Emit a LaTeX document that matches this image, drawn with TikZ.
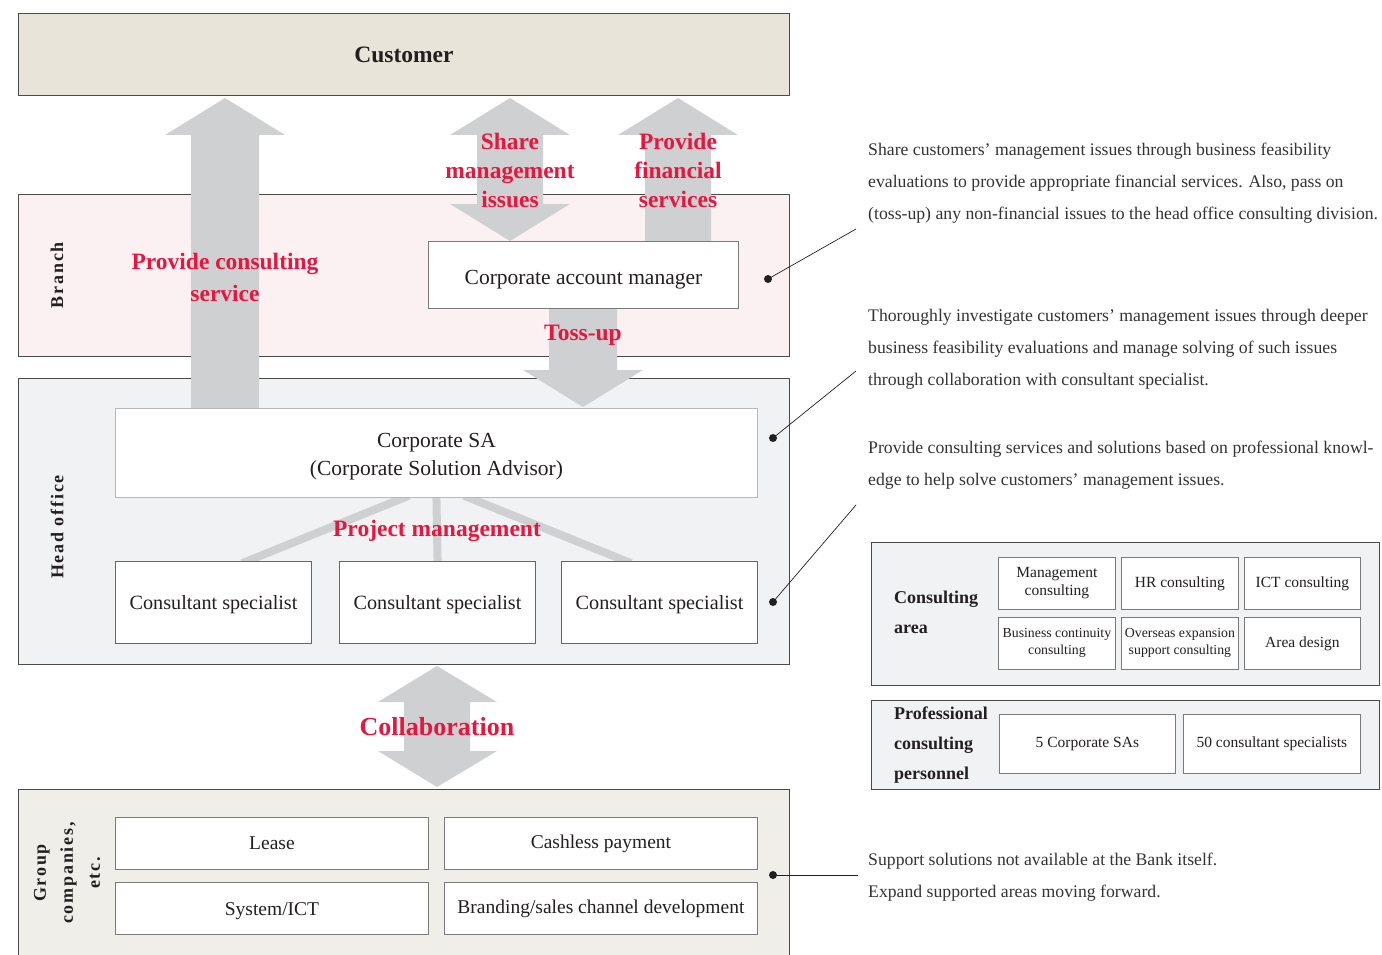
\documentclass[tikz,border=0pt]{standalone}
\usepackage{fontspec}
\setmainfont{Liberation Serif}
\definecolor{custfill}{HTML}{E8E4D9}
\definecolor{branchfill}{HTML}{FBF1F3}
\definecolor{hofill}{HTML}{F1F2F4}
\definecolor{grpfill}{HTML}{F0EEE8}
\definecolor{arrowgray}{HTML}{CFD0D2}
\definecolor{labelred}{HTML}{E5173F}
\definecolor{frameline}{HTML}{4A4A4A}
\definecolor{boxline}{HTML}{7A7A7A}
\definecolor{specline}{HTML}{3A6DAD}
\definecolor{saline}{HTML}{B8B8B8}
\definecolor{inktext}{HTML}{231F20}
\definecolor{notetext}{HTML}{333333}
\pgfdeclarelayer{bg}
\pgfdeclarelayer{mid}
\pgfsetlayers{bg,mid,main}
\begin{document}
\begin{tikzpicture}[x=1pt,y=-1pt,
  frame/.style={draw=frameline, line width=1pt, inner sep=0pt, anchor=north west},
  wbox/.style={draw=boxline, fill=white, line width=0.9pt, inner sep=0pt, anchor=north west,
    align=center, text=inktext, font=\fontsize{21.5}{28}\selectfont},
  specbox/.style={wbox, draw=specline, line width=1.1pt, font=\fontsize{20.2}{24}\selectfont},
  gbox/.style={wbox, font=\fontsize{19.5}{24}\selectfont},
  cbox/.style={wbox, line width=0.8pt, font=\fontsize{15.5}{18}\selectfont},
  cboxs/.style={cbox, font=\fontsize{13.8}{17}\selectfont},
  redlbl/.style={text=labelred, align=center, inner sep=0pt, font=\fontsize{23.5}{29}\selectfont\bfseries},
  sidelbl/.style={rotate=90, align=center, inner sep=0pt, text=inktext,
    font=\fontsize{18}{27}\selectfont\bfseries\addfontfeature{LetterSpace=10}},
  note/.style={anchor=north west, align=left, inner sep=0pt, text=notetext,
    font=\fontsize{17.7}{32}\selectfont},
  areahead/.style={anchor=north west, align=left, inner sep=0pt, text=inktext,
    font=\fontsize{18}{30}\selectfont\bfseries},
  bigarrow/.style={fill=arrowgray},
  pmline/.style={draw=arrowgray, line width=8pt, shorten <=-6pt, shorten >=-6pt},
  leader/.style={draw=inktext, line width=0.7pt},
  dot/.style={circle, fill=inktext, inner sep=0pt, minimum size=8pt}
]
\useasboundingbox (0,0) rectangle (1382,955);

% ---------- organisation bands ----------
\begin{pgfonlayer}{bg}
  \node[frame, fill=custfill,   minimum width=771pt, minimum height=82pt]  (cust)   at (18,13)  {};
  \node[frame, fill=branchfill, minimum width=771pt, minimum height=162pt] (branch) at (18,194) {};
  \node[frame, fill=hofill,     minimum width=771pt, minimum height=286pt] (ho)     at (18,378) {};
  \node[frame, fill=grpfill,    minimum width=771pt, minimum height=175pt] (grp)    at (18,789) {};
\end{pgfonlayer}

\node[font=\fontsize{23.5}{27}\selectfont\bfseries, text=inktext] (custlbl) at (404,55) {Customer};
\node[sidelbl] (branchlbl) at (57,275) {Branch};
\node[sidelbl] (holbl) at (57,527) {Head office};
\node[sidelbl] (grplbl) at (67,873) {Group\\companies,\\etc.};

% ---------- boxes ----------
\node[wbox, minimum width=310pt, minimum height=67pt] (cam) at (428,241) {\rule{0pt}{23pt}Corporate account manager};
\node[wbox, draw=saline, minimum width=642pt, minimum height=89pt] (sa) at (115,408)
  {\rule{0pt}{21pt}Corporate SA\\(Corporate Solution Advisor)};
\node[specbox, minimum width=196pt, minimum height=82pt] (cs1) at (115,561) {\rule{0pt}{18pt}Consultant specialist};
\node[specbox, minimum width=196pt, minimum height=82pt] (cs2) at (339,561) {\rule{0pt}{18pt}Consultant specialist};
\node[specbox, minimum width=196pt, minimum height=82pt] (cs3) at (561,561) {\rule{0pt}{18pt}Consultant specialist};

\node[gbox, minimum width=313pt, minimum height=52pt] (lease) at (115,817) {Lease};
\node[gbox, minimum width=313pt, minimum height=52pt] (cashless) at (444,817) {Cashless payment};
\node[gbox, minimum width=313pt, minimum height=52pt] (sysict) at (115,882) {\rule{0pt}{18pt}System/ICT};
\node[gbox, minimum width=313pt, minimum height=52pt] (brand) at (444,882) {Branding/sales channel development};

% ---------- wide gray arrows ----------
\begin{pgfonlayer}{mid}
  % provide consulting service (up)
  \fill[bigarrow] (191,410) -- (191,135) -- (165,135) -- (225,98) -- (285,135) -- (259,135) -- (259,410) -- cycle;
  % share management issues (both ways)
  \fill[bigarrow] (477,204) -- (477,135) -- (450,135) -- (510,98) -- (570,135) -- (543,135)
                  -- (543,204) -- (570,204) -- (510,241) -- (450,204) -- cycle;
  % provide financial services (up)
  \fill[bigarrow] (645,243) -- (645,135) -- (618,135) -- (678,98) -- (738,135) -- (711,135) -- (711,243) -- cycle;
  % toss-up (down)
  \fill[bigarrow] (549,306) -- (617,306) -- (617,370) -- (643,370) -- (583,407) -- (523,370) -- (549,370) -- cycle;
  % collaboration (both ways)
  \fill[bigarrow] (404,751) -- (404,702) -- (378,702) -- (437,666) -- (497,702) -- (470,702)
                  -- (470,751) -- (497,751) -- (437,787) -- (378,751) -- cycle;
  % project management links
  \draw[pmline] ([xshift=-33pt]sa.south) -- ([xshift=34pt]cs1.north);
  \draw[pmline] (sa.south) -- (cs2.north);
  \draw[pmline] ([xshift=33pt]sa.south) -- ([xshift=-34pt]cs3.north);
\end{pgfonlayer}

% ---------- red labels ----------
\node[redlbl, font=\fontsize{23.5}{32}\selectfont\bfseries] (lblpcs) at (225,277) {Provide consulting\\service};
\node[redlbl] (lblshare) at (510,170) {Share\\management\\issues};
\node[redlbl] (lblfin) at (678,170) {Provide\\financial\\services};
\node[redlbl] (lbltoss) at (583,335) {Toss-up};
\node[redlbl] (lblpm) at (437,531) {Project management};
\node[redlbl, font=\fontsize{26}{30}\selectfont\bfseries] (lblcollab) at (437,727) {Collaboration};

% ---------- explanatory notes ----------
\node[note] (n1) at (868,143) {Share customers’ management issues through business feasibility\\
  evaluations to provide appropriate financial services. Also, pass on\\
  (toss-up) any non-financial issues to the head office consulting division.};
\node[note] (n2) at (868,309) {Thoroughly investigate customers’ management issues through deeper\\
  business feasibility evaluations and manage solving of such issues\\
  through collaboration with consultant specialist.};
\node[note] (n3) at (868,441) {Provide consulting services and solutions based on professional knowl-\\
  edge to help solve customers’ management issues.};
\node[note] (n4) at (868,853) {Support solutions not available at the Bank itself.\\
  Expand supported areas moving forward.};

% ---------- leaders ----------
\node[dot] (d1) at (768,279) {};
\node[dot] (d2) at (773,438) {};
\node[dot] (d3) at (773,602) {};
\node[dot] (d4) at (773,875) {};
\coordinate (e1) at (856,229);
\coordinate (e2) at (856,371);
\coordinate (e3) at (856,505);
\coordinate (e4) at (858,875);
\draw[leader] (d1.center) -- (e1);
\draw[leader] (d2.center) -- (e2);
\draw[leader] (d3.center) -- (e3);
\draw[leader] (d4.center) -- (e4);

% ---------- consulting area panel ----------
\node[frame, fill=hofill, minimum width=508pt, minimum height=143pt] (area) at (871,542) {};
\node[areahead] (arealbl) at (894,591) {Consulting\\area};
\node[cbox, minimum width=117pt, minimum height=52pt] (a1) at (998,557) {Management\\consulting};
\node[cbox, minimum width=117pt, minimum height=52pt] (a2) at (1121,557) {HR consulting};
\node[cbox, minimum width=116pt, minimum height=52pt] (a3) at (1244,557) {ICT consulting};
\node[cboxs, minimum width=117pt, minimum height=52pt] (a4) at (998,617) {Business continuity\\consulting};
\node[cboxs, minimum width=117pt, minimum height=52pt] (a5) at (1121,617) {Overseas expansion\\support consulting};
\node[cbox, minimum width=116pt, minimum height=52pt] (a6) at (1244,617) {Area design};

% ---------- personnel panel ----------
\node[frame, fill=hofill, minimum width=508pt, minimum height=89pt] (pers) at (871,700) {};
\node[areahead] (perslbl) at (894,707) {Professional\\consulting\\personnel};
\node[cbox, minimum width=176pt, minimum height=59pt] (p1) at (999,714) {5 Corporate SAs};
\node[cbox, minimum width=177pt, minimum height=59pt] (p2) at (1183,714) {50 consultant specialists};

\end{tikzpicture}
\end{document}
